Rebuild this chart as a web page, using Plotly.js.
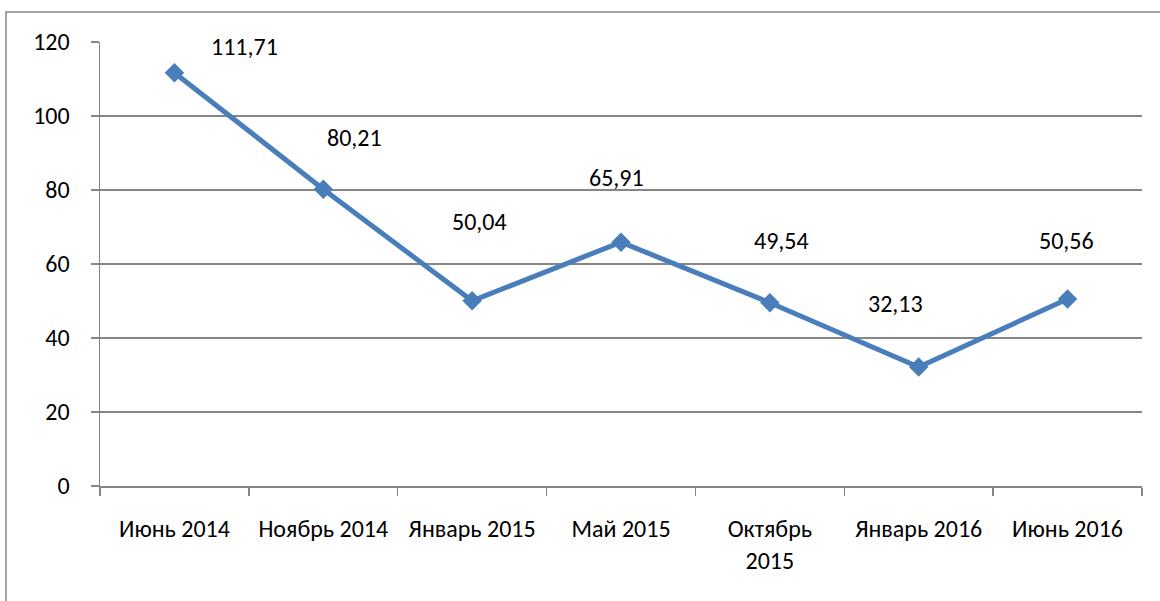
<!DOCTYPE html>
<html>
<head>
<meta charset="utf-8">
<script src="https://cdn.plot.ly/plotly-3.0.1.min.js"></script>
<style>
html,body{margin:0;padding:0;background:#fff;}
#chart{width:1160px;height:601px;}
</style>
</head>
<body>
<div id="chart"></div>
<script>
const categories = ["Июнь 2014", "Ноябрь 2014", "Январь 2015", "Май 2015", "Октябрь<br>2015", "Январь 2016", "Июнь 2016"];
const values = [111.71, 80.21, 50.04, 65.91, 49.54, 32.13, 50.56];
const yTicks = [0, 20, 40, 60, 80, 100, 120];

// label offsets (pixels) relative to each point, as placed in the reference
const labelDX = [70, 31, 7, -5, 12, -23, -1];
const labelDY = [26, 52, 79, 65, 62, 64, 58];

const fontFam = 'Carlito, "Open Sans", sans-serif';
const grey = '#868686';

const trace = {
  type: 'scatter',
  mode: 'lines+markers',
  x: categories,
  y: values,
  line: {color: '#4a7ebb', width: 5},
  marker: {symbol: 'diamond', size: 15, color: '#4a7ebb'},
  hoverinfo: 'skip'
};

const annotations = categories.map((c, i) => ({
  x: c, y: values[i], xref: 'x', yref: 'y',
  text: values[i].toFixed(2).replace('.', ','),
  showarrow: false,
  xshift: labelDX[i], yshift: labelDY[i],
  font: {family: fontFam, size: 24, color: '#000'}
}));

const layout = {
  width: 1160, height: 601,
  margin: {l: 100, r: 18, t: 42, b: 115, pad: 0},
  paper_bgcolor: '#fff', plot_bgcolor: '#fff',
  showlegend: false,
  font: {family: fontFam, size: 24, color: '#000'},
  xaxis: {
    type: 'category',
    range: [-0.5, 6.5],
    showgrid: false,
    showline: true, linecolor: grey, linewidth: 1.5,
    ticks: 'outside', tickson: 'boundaries', ticklen: 8, tickcolor: grey, tickwidth: 1.5,
    ticklabelstandoff: 21,
    zeroline: false,
    fixedrange: true
  },
  yaxis: {
    range: [0, 120],
    tickvals: yTicks,
    ticktext: yTicks.map(String),
    showgrid: true, gridcolor: grey, gridwidth: 1.5,
    showline: true, linecolor: grey, linewidth: 1.5,
    ticks: 'outside', ticklen: 8, tickcolor: grey, tickwidth: 1.5,
    ticklabelstandoff: 16,
    zeroline: false,
    fixedrange: true
  },
  annotations: annotations,
  shapes: [{
    type: 'rect', xref: 'paper', yref: 'paper', layer: 'below',
    x0: (6 - 100) / 1042, x1: (1175 - 100) / 1042,
    y0: (486 - 620) / 444, y1: (486 - 12) / 444,
    line: {color: grey, width: 1.5}, fillcolor: 'rgba(0,0,0,0)'
  }]
};

Plotly.newPlot('chart', [trace], layout, {displayModeBar: false, staticPlot: true});
</script>
</body>
</html>
